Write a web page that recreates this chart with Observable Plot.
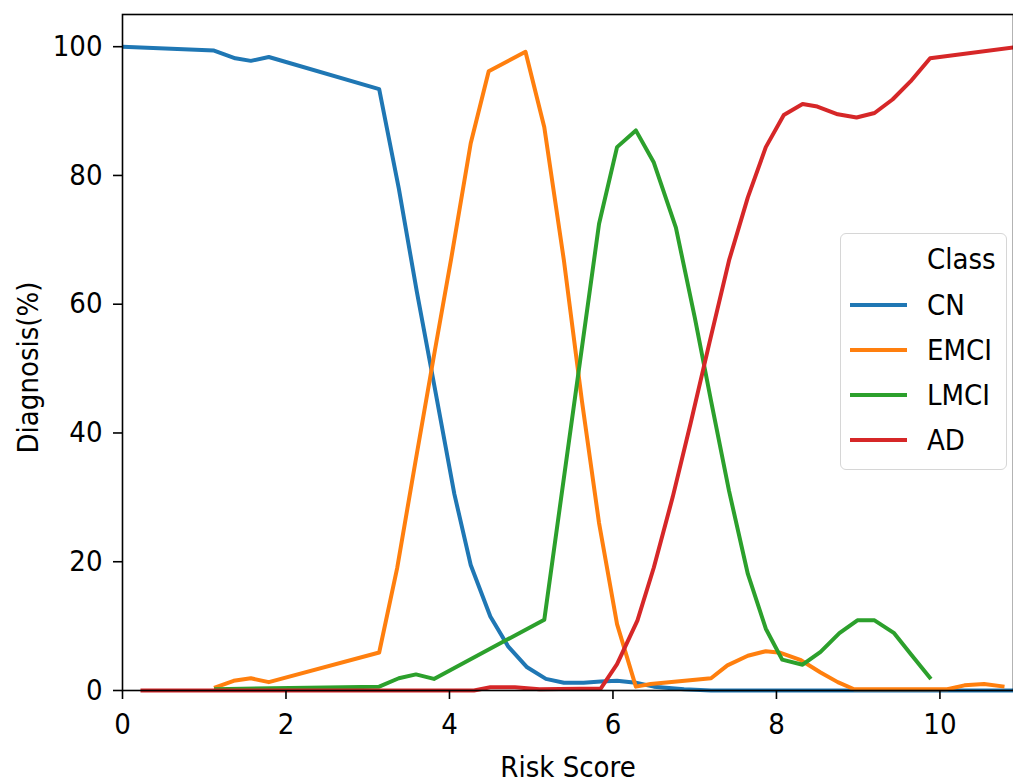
<!DOCTYPE html>
<html>
<head>
<meta charset="utf-8">
<script src="https://cdn.jsdelivr.net/npm/d3@7"></script>
<script src="https://cdn.jsdelivr.net/npm/@observablehq/plot@0.6"></script>
<style>
  body { margin: 0; background: #fff; }
  #wrap { position: relative; width: 1013px; height: 784px; font-family: "DejaVu Sans Condensed", "DejaVu Sans", sans-serif; }
  #legend { position: absolute; left: 840px; top: 233px; width: 167px; height: 237px;
            border: 1.5px solid #d6d6d6; border-radius: 6px; background: rgba(255,255,255,0.8);
            box-sizing: border-box; font-size: 29px; color: #000; }
  #legend .row { position: absolute; left: 0; height: 32px; width: 100%; }
  #legend .sw { position: absolute; left: 9px; top: 14px; width: 57px; height: 4px; }
  #legend .lb { position: absolute; left: 86px; top: 0; line-height: 32px; }
</style>
</head>
<body>
<div id="wrap"></div>
<script>
// ---- data ----
const classes = ["CN", "EMCI", "LMCI", "AD"];
const colors = ["#1f77b4", "#ff7f0e", "#2ca02c", "#d62728"];
const xTicks = [0, 2, 4, 6, 8, 10];
const yTicks = [0, 20, 40, 60, 80, 100];
const xLabel = "Risk Score";
const yLabel = "Diagnosis(%)";
const legendTitle = "Class";

const cnX = [0, 1.12, 1.38, 1.57, 1.79, 3.14, 3.38, 3.6, 3.82, 4.06, 4.26, 4.5, 4.72, 4.95, 5.18, 5.4, 5.64, 5.85, 6.05, 6.28, 6.5, 6.87, 7.2, 8.0, 9.0, 10.0, 10.9];
const cnY = [100, 99.4, 98.2, 97.8, 98.4, 93.4, 78, 62, 47, 30.5, 19.5, 11.5, 6.8, 3.6, 1.8, 1.2, 1.2, 1.4, 1.5, 1.2, 0.6, 0.2, 0, 0, 0, 0, 0];

const emciX = [1.12, 1.36, 1.57, 1.79, 3.14, 3.36, 3.59, 3.81, 4.02, 4.26, 4.48, 4.93, 5.16, 5.4, 5.62, 5.83, 6.05, 6.28, 6.46, 7.2, 7.4, 7.65, 7.87, 8.05, 8.3, 8.54, 8.75, 8.95, 10.09, 10.3, 10.54, 10.79];
const emciY = [0.4, 1.5, 1.9, 1.3, 5.9, 19, 36, 52, 67, 85, 96.2, 99.2, 87.5, 66.8, 45, 26, 10.3, 0.6, 1.0, 1.9, 3.9, 5.4, 6.1, 5.85, 4.7, 2.8, 1.3, 0.2, 0.2, 0.8, 1.0, 0.6];

const lmciX = [1.12, 3.14, 3.38, 3.59, 3.81, 5.16, 5.83, 6.05, 6.28, 6.5, 6.77, 7.0, 7.2, 7.42, 7.65, 7.87, 8.07, 8.32, 8.54, 8.77, 8.99, 9.2, 9.44, 9.64, 9.89];
const lmciY = [0.2, 0.6, 1.9, 2.5, 1.8, 11.0, 72.5, 84.4, 87.0, 82.0, 71.9, 58, 45, 31, 18.1, 9.6, 4.8, 4.0, 6.0, 8.9, 10.9, 10.9, 8.9, 5.7, 1.8];

const adX = [0.22, 4.3, 4.5, 4.8, 5.1, 5.85, 6.05, 6.3, 6.5, 6.73, 6.95, 7.18, 7.42, 7.65, 7.87, 8.09, 8.32, 8.5, 8.75, 8.98, 9.2, 9.42, 9.64, 9.88, 10.9];
const adY = [0, 0, 0.5, 0.5, 0.2, 0.3, 4.1, 10.9, 19.1, 30, 41.5, 54, 66.8, 76.6, 84.4, 89.4, 91.1, 90.7, 89.5, 89.0, 89.7, 91.8, 94.6, 98.2, 99.9];

const seriesX = [cnX, emciX, lmciX, adX];
const seriesY = [cnY, emciY, lmciY, adY];
const rows = classes.flatMap((c, k) => seriesX[k].map((x, i) => ({cls: c, x, y: seriesY[k][i]})));

const chart = Plot.plot({
  width: 1013,
  height: 784,
  marginLeft: 122,
  marginRight: 0,
  marginTop: 14,
  marginBottom: 94,
  style: {fontFamily: "'DejaVu Sans Condensed', 'DejaVu Sans', sans-serif", fontSize: "29px", color: "#000", background: "#fff", overflow: "visible"},
  x: {domain: [0, 10.9]},
  y: {domain: [0, 105]},
  color: {domain: classes, range: colors},
  marks: [
    Plot.line(rows, {x: "x", y: "y", z: "cls", stroke: "cls", strokeWidth: 4, strokeLinejoin: "round", strokeLinecap: "butt"}),
    Plot.frame({stroke: "#000", strokeWidth: 1.6}),
    Plot.axisX({ticks: xTicks, tickSize: 9, tickPadding: 14, tickFormat: d => String(d), strokeWidth: 1.6, label: null}),
    Plot.axisY({ticks: yTicks, tickSize: 9, tickPadding: 11, tickFormat: d => String(d), strokeWidth: 1.6, label: null}),
    Plot.text([xLabel], {text: d => d, frameAnchor: "bottom", textAnchor: "middle", lineAnchor: "middle", dy: 77, fill: "#000"}),
    Plot.text([yLabel], {text: d => d, frameAnchor: "left", textAnchor: "middle", lineAnchor: "middle", rotate: -90, dx: -94, dy: 15, fill: "#000"})
  ]
});

const wrap = document.getElementById("wrap");
wrap.appendChild(chart);

// legend (inside the plot area, right side)
const legend = document.createElement("div");
legend.id = "legend";
const title = document.createElement("div");
title.className = "row";
title.style.top = "9px";
title.innerHTML = `<span class="lb">${legendTitle}</span>`;
legend.appendChild(title);
classes.forEach((c, i) => {
  const r = document.createElement("div");
  r.className = "row";
  r.style.top = (55 + i * 45) + "px";
  r.innerHTML = `<span class="sw" style="background:${colors[i]}"></span><span class="lb">${c}</span>`;
  legend.appendChild(r);
});
wrap.appendChild(legend);
</script>
</body>
</html>
